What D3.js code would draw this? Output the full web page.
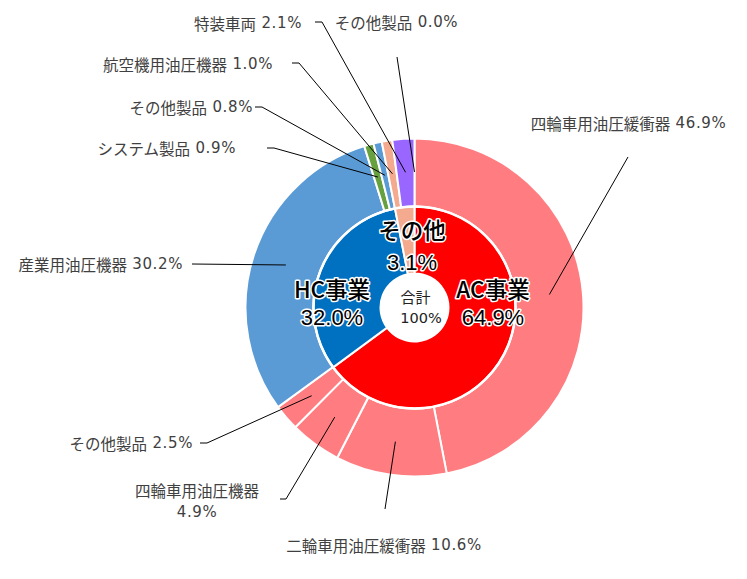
<!DOCTYPE html>
<html>
<head>
<meta charset="utf-8">
<script src="https://cdn.jsdelivr.net/npm/d3@7"></script>
<style>
html,body{margin:0;padding:0;background:#fff;}
svg{display:block;}
</style>
</head>
<body>
<svg id="chart" width="747" height="579"></svg>
<script>
// ---- data ----
const innerLabels = ["AC事業", "HC事業", "その他"];
const innerValues = [64.9, 32.0, 3.1];
const outerLabels = ["四輪車用油圧緩衝器", "二輪車用油圧緩衝器", "四輪車用油圧機器", "その他製品",
                     "産業用油圧機器", "システム製品", "その他製品",
                     "航空機用油圧機器", "特装車両", "その他製品"];
const outerValues = [46.9, 10.6, 4.9, 2.5, 30.2, 0.9, 0.8, 1.0, 2.1, 0.0];
const totalLabel = ["合計", "100%"];

// ---- styles / layout ----
const innerColors = ["#FF0000", "#0070C0", "#F3AA8E"];
const outerColors = ["#FF7C80", "#FF7C80", "#FF7C80", "#FF7C80",
                     "#5B9BD5", "#66A03F", "#5B9BD5",
                     "#F3AA8E", "#9966FF", "#F3AA8E"];
const cx = 414.5, cy = 307.5;
const rHole = 34, rMid = 101, rOuter = 169;

const outerLayout = [
  {tx: 628.5, ty: 123, anchor: "middle", pts: [[628, 157]]},
  {tx: 384, ty: 545, anchor: "middle", pts: [[385, 509]]},
  {tx: 197, ty: 490, anchor: "middle", twoLine: true, pts: [[280, 499], [286, 499]]},
  {tx: 193, ty: 443, anchor: "end", pts: [[200, 443], [207, 443]]},
  {tx: 183, ty: 264, anchor: "end", pts: [[192, 264]]},
  {tx: 236, ty: 148, anchor: "end", pts: [[267, 148], [274, 148]]},
  {tx: 253, ty: 107, anchor: "end", pts: [[255, 107], [262, 107]]},
  {tx: 273, ty: 64, anchor: "end", pts: [[292, 63], [299, 63]]},
  {tx: 302, ty: 23, anchor: "end", pts: [[315, 22], [322, 22]]},
  {tx: 396.5, ty: 22, anchor: "middle", pts: [[397, 57]]}
];
const innerLayout = [
  {tx: 493, ty1: 288, ty2: 317.5},
  {tx: 332, ty1: 288, ty2: 317.5},
  {tx: 412, ty1: 229, ty2: 262}
];

const svg = d3.select("#chart");
const g = svg.append("g").attr("transform", `translate(${cx},${cy})`);

const pie = d3.pie().sort(null).value(d => d);
const innerArcs = pie(innerValues);
const outerArcs = pie(outerValues);

const arcInner = d3.arc().innerRadius(rHole).outerRadius(rMid);
const arcOuter = d3.arc().innerRadius(rMid).outerRadius(rOuter);
const arcOuterMid = d3.arc().innerRadius((rMid + rOuter) / 2 + 0.5).outerRadius((rMid + rOuter) / 2 + 0.5);

g.selectAll("path.outer").data(outerArcs).join("path")
  .attr("class", "outer")
  .attr("d", arcOuter)
  .attr("fill", (d, i) => outerColors[i])
  .attr("stroke", "#fff")
  .attr("stroke-width", d => d.value > 0 ? 2 : 0);

g.selectAll("path.inner").data(innerArcs).join("path")
  .attr("class", "inner")
  .attr("d", arcInner)
  .attr("fill", (d, i) => innerColors[i])
  .attr("stroke", "#fff")
  .attr("stroke-width", 2);

g.append("circle").attr("r", rMid).attr("fill", "none").attr("stroke", "#fff").attr("stroke-width", 2.5);

// leader lines
const lineGen = d3.line();
outerArcs.forEach((d, i) => {
  const c = arcOuterMid.centroid(d);
  const pts = outerLayout[i].pts.map(p => [p[0] - cx, p[1] - cy]);
  pts.push(c);
  g.append("path")
    .attr("d", lineGen(pts))
    .attr("fill", "none")
    .attr("stroke", "#000")
    .attr("stroke-width", 1);
});

// outer labels
const cjkFont = "'Noto Sans CJK JP', 'Noto Sans', sans-serif";
const numFont = "'DejaVu Sans', 'Noto Sans', sans-serif";
const innerNumFont = "'Liberation Sans', Arial, sans-serif";
function addLabel(x, y, anchor, name, pct) {
  const t = svg.append("text").attr("x", x).attr("y", y)
    .attr("text-anchor", anchor).attr("dominant-baseline", "central")
    .attr("font-size", 15.5).attr("fill", "#404040");
  if (name) t.append("tspan").attr("font-family", cjkFont).text(name);
  if (pct) t.append("tspan").attr("font-family", numFont).attr("font-size", 15)
    .attr("letter-spacing", 0.6).text((name ? "\u00A0" : "") + pct);
}
outerArcs.forEach((d, i) => {
  const L = outerLayout[i];
  const pct = d3.format(".1f")(outerValues[i]) + "%";
  if (L.twoLine) {
    addLabel(L.tx, L.ty, L.anchor, outerLabels[i], null);
    addLabel(L.tx, L.ty + 22, L.anchor, null, pct);
  } else {
    addLabel(L.tx, L.ty, L.anchor, outerLabels[i], pct);
  }
});

// inner labels
innerArcs.forEach((d, i) => {
  const L = innerLayout[i];
  const pct = d3.format(".1f")(innerValues[i]) + "%";
  const common = sel => sel.attr("text-anchor", "middle").attr("dominant-baseline", "central")
    .attr("fill", "#000").attr("stroke", "#fff").attr("stroke-width", 3)
    .attr("paint-order", "stroke").attr("stroke-linejoin", "round");
  svg.append("text").call(common).attr("x", L.tx).attr("y", L.ty1)
    .attr("font-family", cjkFont).attr("font-size", 22.5).attr("font-weight", 500)
    .text(innerLabels[i]);
  svg.append("text").call(common).attr("x", L.tx).attr("y", L.ty2)
    .attr("font-family", innerNumFont).attr("font-size", 22).attr("font-weight", 400)
    .text(pct);
});

// center label
svg.append("text").attr("x", cx + 1).attr("y", cy - 11)
  .attr("text-anchor", "middle").attr("dominant-baseline", "central")
  .attr("font-family", cjkFont).attr("font-size", 15).attr("fill", "#222")
  .text(totalLabel[0]);
svg.append("text").attr("x", cx + 6.5).attr("y", cy + 10)
  .attr("text-anchor", "middle").attr("dominant-baseline", "central")
  .attr("font-family", numFont).attr("font-size", 14.5).attr("fill", "#222")
  .text(totalLabel[1]);
</script>
</body>
</html>
